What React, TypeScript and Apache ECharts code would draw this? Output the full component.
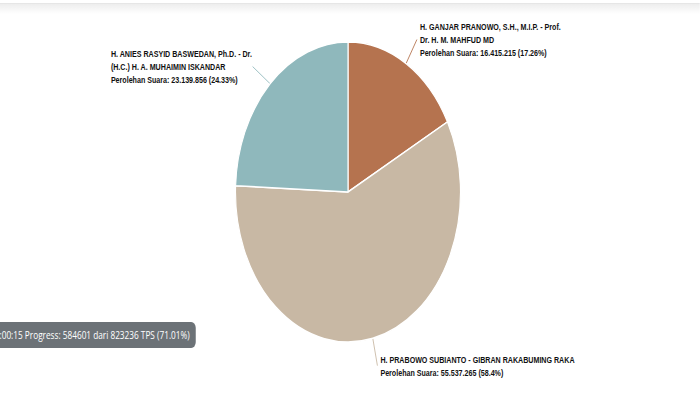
import React, { useEffect, useRef } from "react";
import * as echarts from "echarts";

const candidates = [
  "H. GANJAR PRANOWO, S.H., M.I.P. - Prof.\nDr. H. M. MAHFUD MD",
  "H. PRABOWO SUBIANTO - GIBRAN RAKABUMING RAKA",
  "H. ANIES RASYID BASWEDAN, Ph.D. - Dr.\n(H.C.) H. A. MUHAIMIN ISKANDAR",
];
const votes = [16415215, 55537265, 23139856];
const percents = ["17.26%", "58.4%", "24.33%"];
const colors = ["#b5734f", "#c8b8a4", "#8fb8bc"];
const progressText = "Versi: 15 Feb 2024 19:00:15 Progress: 584601 dari 823236 TPS (71.01%)";

const SX = 0.75;
const W = 700 / SX;
const H = 393;

const fmt = (n: number) => n.toString().replace(/\B(?=(\d{3})+(?!\d))/g, ".");

export default function App() {
  const ref = useRef<HTMLDivElement>(null);
  useEffect(() => {
    if (!ref.current) return;
    const chart = echarts.init(ref.current, null, { renderer: "svg" });
    chart.setOption({
      animation: false,
      backgroundColor: "#ffffff",
      graphic: [
        {
          type: "rect",
          shape: { x: 0, y: 4, width: W, height: 10 },
          style: {
            fill: new echarts.graphic.LinearGradient(0, 0, 0, 1, [
              { offset: 0, color: "rgba(0,0,0,0.07)" },
              { offset: 1, color: "rgba(0,0,0,0)" },
            ]),
          },
          silent: true,
        },
        {
          type: "line",
          shape: { x1: 0, y1: 3.5, x2: W, y2: 3.5 },
          style: { stroke: "#e2e2e2", lineWidth: 1 },
          silent: true,
        },
        {
          type: "rect",
          shape: { x: -20, y: 322, width: 281, height: 26, r: 6 },
          style: { fill: "#6c7277" },
          silent: true,
        },
        {
          type: "text",
          x: 253,
          y: 335,
          style: {
            text: progressText,
            fill: "#ffffff",
            font: "11px 'Open Sans', sans-serif",
            align: "right",
            verticalAlign: "middle",
          },
          silent: true,
        },
      ],
      series: [
        {
          type: "pie",
          center: [464, 192],
          radius: [0, 150],
          startAngle: 90,
          clockwise: true,
          avoidLabelOverlap: false,
          itemStyle: { borderColor: "#ffffff", borderWidth: 1.5 },
          label: {
            show: true,
            position: "outside",
            color: "#111111",
            fontFamily: "'Liberation Sans', Arial, sans-serif",
            fontSize: 9.5,
            fontWeight: "bold",
            lineHeight: 13,
            distanceToLabelLine: 4,
            formatter: (p: any) =>
              `${candidates[p.dataIndex]}\nPerolehan Suara: ${fmt(votes[p.dataIndex])} (${percents[p.dataIndex]})`,
          },
          labelLine: {
            show: true,
            length: 28,
            length2: 0,
            smooth: false,
            lineStyle: { width: 1 },
          },
          labelLayout: (params: any) =>
            params.dataIndex === 2
              ? { x: params.labelRect.x, y: params.labelRect.y + params.labelRect.height / 2 + 3, align: "left", verticalAlign: "middle" }
              : {},
          data: candidates.map((c, i) => ({
            name: c,
            value: votes[i],
            itemStyle: { color: colors[i] },
            labelLine: { lineStyle: { color: colors[i] } },
          })),
        },
      ],
    });
    return () => chart.dispose();
  }, []);
  return (
    <div
      style={{
        position: "fixed",
        left: 0,
        top: 0,
        width: 700,
        height: H,
        overflow: "hidden",
        background: "#fff",
      }}
    >
      <div
        ref={ref}
        style={{
          width: W,
          height: H,
          transform: `scaleX(${SX})`,
          transformOrigin: "0 0",
        }}
      />
    </div>
  );
}
